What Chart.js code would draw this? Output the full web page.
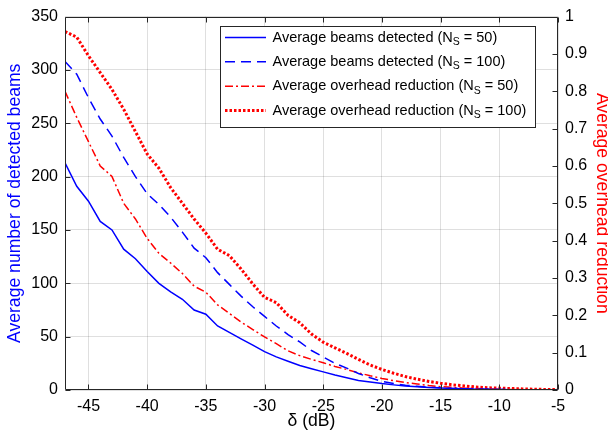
<!DOCTYPE html>
<html><head><meta charset="utf-8">
<script src="https://cdn.jsdelivr.net/npm/chart.js@4.4.1/dist/chart.umd.min.js"></script>
<style>html,body{margin:0;padding:0;background:#fff;}#wrap{width:608px;height:437px;position:relative;}</style>
</head><body><div id="wrap"><canvas id="c" width="608" height="437"></canvas></div>
<script>
// ---- data ----
const deltaDb = [-47,-46,-45,-44,-43,-42,-41,-40,-39,-38,-37,-36,-35,-34,-33,-32,-31,-30,-29,-28,-27,-26,-25,-24,-23,-22,-21,-20,-19,-18,-17,-16,-15,-14,-13,-12,-11,-10,-9,-8,-7,-6,-5];
const beamsNs50 = [213,191,177,158,150,132,123,111,100,92, 85,75,71,60,54,48,42,36,31,27, 23,20,17,14,11.5,9,7.5,6,4.8,3.8, 3,2.3,1.8,1.4,1.1,0.8,0.6,0.5,0.35,0.25, 0.2,0.15,0.1];
const beamsNs100 = [308,296,274,254,238,218,200,184,174,162, 148,133,124,110,99,88,78,69,60,52, 45,37,31,25,20.5,15.5,11.5,8,6,4.5, 3.5,2.6,2,1.5,1.1,0.8,0.6,0.45,0.35,0.25, 0.2,0.15,0.1];
const overheadNs50 = [0.80,0.73,0.665,0.60,0.572,0.50,0.458,0.406,0.366,0.34, 0.312,0.278,0.262,0.228,0.205,0.182,0.162,0.142,0.124,0.105, 0.092,0.082,0.073,0.063,0.055,0.046,0.038,0.031,0.025,0.02, 0.016,0.012,0.009,0.007,0.005,0.004,0.003,0.002,0.0015,0.001, 0.001,0.0005,0.0005];
const overheadNs100 = [0.96,0.945,0.895,0.85,0.805,0.752,0.692,0.632,0.594,0.542, 0.50,0.458,0.42,0.377,0.36,0.324,0.284,0.248,0.234,0.20, 0.18,0.15,0.128,0.113,0.098,0.082,0.067,0.055,0.045,0.036, 0.029,0.023,0.018,0.014,0.011,0.008,0.006,0.005,0.004,0.003, 0.002,0.0015,0.001];
const xTickValues = [-45,-40,-35,-30,-25,-20,-15,-10,-5];
const leftTickValues = [0,50,100,150,200,250,300,350];
const rightTickValues = [0,0.1,0.2,0.3,0.4,0.5,0.6,0.7,0.8,0.9,1];
const rightTickLabels = ['0','0.1','0.2','0.3','0.4','0.5','0.6','0.7','0.8','0.9','1'];
const legendMain = ['Average beams detected (N','Average beams detected (N','Average overhead reduction (N','Average overhead reduction (N'];
const legendSub = ['S','S','S','S'];
const legendTail = [' = 50)',' = 100)',' = 50)',' = 100)'];
const xTitle = 'δ (dB)';
const leftTitle = 'Average number of detected beams';
const rightTitle = 'Average overhead reduction';

const FONT = "'Liberation Sans', Arial, sans-serif";
const AXIS = '#262626';
const GRID = 'rgba(38,38,38,0.15)';
Chart.defaults.font.family = FONT;

function pts(arr){ return deltaDb.map((x,i)=>({x:x, y:arr[i]})); }

const datasets = [
  {label: legendMain[0]+legendSub[0]+legendTail[0], data: pts(beamsNs50), yAxisID:'y', borderColor:'#0000ff', borderWidth:1.5, borderDash:[]},
  {label: legendMain[1]+legendSub[1]+legendTail[1], data: pts(beamsNs100), yAxisID:'y', borderColor:'#0000ff', borderWidth:1.5, borderDash:[10,6]},
  {label: legendMain[2]+legendSub[2]+legendTail[2], data: pts(overheadNs50), yAxisID:'y1', borderColor:'#ff0000', borderWidth:1.5, borderDash:[8,3,2,3]},
  {label: legendMain[3]+legendSub[3]+legendTail[3], data: pts(overheadNs100), yAxisID:'y1', borderColor:'#ff0000', borderWidth:3, borderDash:[2.5,2]}
].map(d=>Object.assign(d,{pointRadius:0, tension:0, fill:false, borderCapStyle:'butt'}));

const decor = {
  id:'decor',
  afterDatasetsDraw(chart){
    const {ctx, chartArea:{left,right,top,bottom}, scales} = chart;
    ctx.save();
    ctx.strokeStyle = AXIS; ctx.lineWidth = 1;
    const L = Math.round(left)+0.5, R = Math.round(right)-0.5, T = Math.round(top)+0.5, B = Math.round(bottom)-0.5;
    ctx.beginPath();
    ctx.rect(L, T, R-L, B-T);
    const tl = 5;
    scales.x.ticks.forEach(t=>{
      const px = Math.round(scales.x.getPixelForValue(t.value))+0.5;
      ctx.moveTo(px,B); ctx.lineTo(px,B-tl);
      ctx.moveTo(px,T); ctx.lineTo(px,T+tl);
    });
    scales.y.ticks.forEach(t=>{
      const py = Math.round(scales.y.getPixelForValue(t.value))+0.5;
      ctx.moveTo(L,py); ctx.lineTo(L+tl,py);
    });
    scales.y1.ticks.forEach(t=>{
      const py = Math.round(scales.y1.getPixelForValue(t.value))+0.5;
      ctx.moveTo(R,py); ctx.lineTo(R-tl,py);
    });
    ctx.stroke();
    ctx.restore();
  },
  afterDraw(chart){
    const ctx = chart.ctx;
    ctx.save();
    const bx=220.5, by=26.5, bw=315, bh=101;
    ctx.fillStyle='#fff'; ctx.fillRect(bx,by,bw,bh);
    ctx.strokeStyle=AXIS; ctx.lineWidth=1; ctx.strokeRect(bx,by,bw,bh);
    const rows=[37.5,61.8,86.2,110.5];
    chart.data.datasets.forEach((ds,i)=>{
      const y=rows[i];
      ctx.save();
      ctx.strokeStyle=ds.borderColor; ctx.lineWidth=ds.borderWidth; ctx.setLineDash(ds.borderDash||[]);
      ctx.beginPath(); ctx.moveTo(225,y); ctx.lineTo(266,y); ctx.stroke();
      ctx.restore();
      ctx.fillStyle='#000'; ctx.textBaseline='middle'; ctx.textAlign='left';
      ctx.font='14.5px '+FONT;
      let x=272.5;
      ctx.fillText(legendMain[i],x,y); x+=ctx.measureText(legendMain[i]).width;
      ctx.font='10.5px '+FONT;
      ctx.fillText(legendSub[i],x,y+4.5); x+=ctx.measureText(legendSub[i]).width;
      ctx.font='14.5px '+FONT;
      ctx.fillText(legendTail[i],x,y);
    });
    ctx.restore();
  }
};

new Chart(document.getElementById('c'),{
  type:'line',
  data:{datasets},
  plugins:[decor],
  options:{
    responsive:false, animation:false, devicePixelRatio:1,
    layout:{padding:{top:14,left:0,right:0,bottom:0}},
    plugins:{legend:{display:false}, tooltip:{enabled:false}},
    scales:{
      x:{type:'linear', position:'bottom', min:-47, max:-5,
        afterBuildTicks:s=>{s.ticks = xTickValues.map(v=>({value:v}));},
        afterFit:s=>{s.height=47;},
        ticks:{font:{size:16}, color:'#000', padding:7, maxRotation:0, autoSkip:false, callback:v=>String(v)},
        grid:{color:GRID, drawTicks:false, lineWidth:1},
        border:{display:false},
        title:{display:true, text:xTitle, color:'#000', font:{size:17.6}, padding:{top:0,bottom:5}}
      },
      y:{type:'linear', position:'left', min:0, max:350,
        afterBuildTicks:s=>{s.ticks = leftTickValues.map(v=>({value:v}));},
        afterFit:s=>{s.width=65;},
        ticks:{font:{size:16}, color:'#000', padding:7, autoSkip:false},
        grid:{color:GRID, drawTicks:false, lineWidth:1},
        border:{display:false},
        title:{display:true, text:leftTitle, color:'#0000ff', font:{size:17.6}, padding:{top:5,bottom:0}}
      },
      y1:{type:'linear', position:'right', min:0, max:1,
        afterBuildTicks:s=>{s.ticks = rightTickValues.map(v=>({value:v}));},
        afterFit:s=>{s.width=50;},
        ticks:{font:{size:16}, color:'#000', padding:7, autoSkip:false, callback:(v,i)=>rightTickLabels[i]},
        grid:{display:false, drawTicks:false},
        border:{display:false},
        title:{display:true, text:rightTitle, color:'#ff0000', font:{size:17.6}, padding:{top:-4.5,bottom:0}}
      }
    }
  }
});
</script></body></html>
